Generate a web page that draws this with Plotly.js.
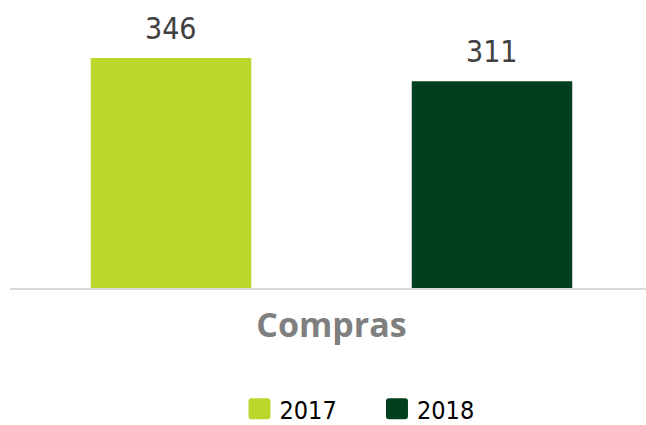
<!DOCTYPE html>
<html><head><meta charset="utf-8">
<script src="https://cdn.plot.ly/plotly-3.0.1.min.js"></script>
<style>html,body{margin:0;padding:0;background:#fff}#chart{width:646px;height:425px}</style>
</head><body><div id="chart"></div>
<script>
const categories = ["Compras"];
const series2017 = [346];
const series2018 = [311];
const seriesNames = ["2017", "2018"];
const colors = ["#bdd62b", "#00401e"];
const allSeries = [series2017, series2018];
const narrow = "Liberation Sans Narrow, DejaVu Sans Condensed, sans-serif";
const traces = allSeries.map((vals, i) => ({
  type: "bar", x: categories, y: vals, name: seriesNames[i],
  marker: {color: colors[i]}, hoverinfo: "skip"
}));
// value labels as annotations above each bar (offset = half a bar slot)
const slot = 0.5;
const annotations = [];
allSeries.forEach((vals, i) => {
  vals.forEach((v, j) => {
    annotations.push({x: j + (i - 0.5) * slot, y: v, xref: "x", yref: "y", text: String(v),
      showarrow: false, yanchor: "bottom", yshift: 10,
      font: {family: narrow, size: 30, color: "#404040"}});
  });
});
const layout = {
  width: 646, height: 425,
  margin: {l: 10, r: 0, t: 22, b: 137, autoexpand: false},
  paper_bgcolor: "#fff", plot_bgcolor: "#fff",
  barmode: "group", bargap: 0, bargroupgap: 0.5,
  xaxis: {type: "category", range: [-0.5008, 0.4899], showline: true, linecolor: "#d9d9d9", linewidth: 2,
    automargin: false,
    ticks: "", ticklabelstandoff: 6, showgrid: false, zeroline: false,
    tickfont: {family: "Open Sans, sans-serif", size: 34, color: "#7f7f7f", weight: "bold"}},
  yaxis: {range: [0, 400], visible: false, showgrid: false, zeroline: false, automargin: false},
  annotations: annotations,
  showlegend: true,
  legend: {orientation: "h", x: 0.577, xanchor: "center", y: -0.455, yanchor: "middle",
    font: {family: narrow, size: 25, color: "#000"},
    itemwidth: 30, entrywidth: 92.5, entrywidthmode: "pixels"}
};
Plotly.newPlot("chart", traces, layout, {staticPlot: true}).then(gd => {
  // enlarge the legend swatches to rounded squares like the reference
  gd.querySelectorAll(".legend .legendpoints path").forEach(p => {
    p.setAttribute("d", "M-8,-10.5H8A3,3 0 0 1 11,-7.5V7.5A3,3 0 0 1 8,10.5H-8A3,3 0 0 1 -11,7.5V-7.5A3,3 0 0 1 -8,-10.5Z");
  });
});
</script></body></html>
